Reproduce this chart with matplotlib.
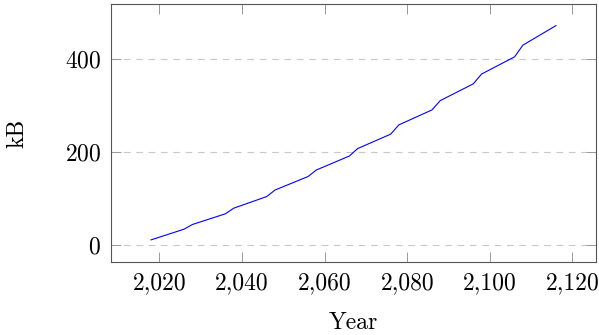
import matplotlib
matplotlib.use("Agg")
import matplotlib.pyplot as plt
from matplotlib.ticker import FuncFormatter

# Kink points
years = [2018, 2026, 2028, 2036, 2038, 2046, 2048, 2056, 2058, 2066,
         2068, 2076, 2078, 2086, 2088, 2096, 2098, 2106, 2108, 2116]
kb = [11, 34, 44, 67, 79, 104, 118, 147, 161, 191,
      207, 238, 258, 290, 310, 346, 367, 404, 429, 471]

x_ticks = [2020, 2040, 2060, 2080, 2100, 2120]
y_ticks = [0, 200, 400]

plt.rcParams["font.family"] = "cmr10"
plt.rcParams["mathtext.fontset"] = "cm"
plt.rcParams["axes.formatter.use_mathtext"] = True
plt.rcParams["lines.scale_dashes"] = False

fig = plt.figure(figsize=(5.99, 3.35), dpi=100)
ax = fig.add_axes([111 / 599, 1 - 262 / 335, 485 / 599, 258 / 335])

ax.plot(years, kb, color="blue", linewidth=0.8)

ax.set_xlim(2008.3, 2125.7)
ax.set_ylim(-36.5, 517.4)
ax.set_xticks(x_ticks)
ax.set_yticks(y_ticks)
ax.xaxis.set_major_formatter(FuncFormatter(lambda v, p: f"{int(v):,}"))

ax.grid(axis="y", color="#c8c8c8", linestyle=(0, (4.8, 4.1)), linewidth=0.8)
ax.set_axisbelow(True)

for s in ax.spines.values():
    s.set_color("#555555")
    s.set_linewidth(0.8)

ax.tick_params(direction="in", length=7.5, width=0.7, color="#999999",
               top=True, right=True, labelsize=17, pad=7)

ax.set_xlabel("Year", fontsize=17, labelpad=13)
ax.set_ylabel("kB", fontsize=17, labelpad=26)

fig.savefig("out.png", dpi=100)
